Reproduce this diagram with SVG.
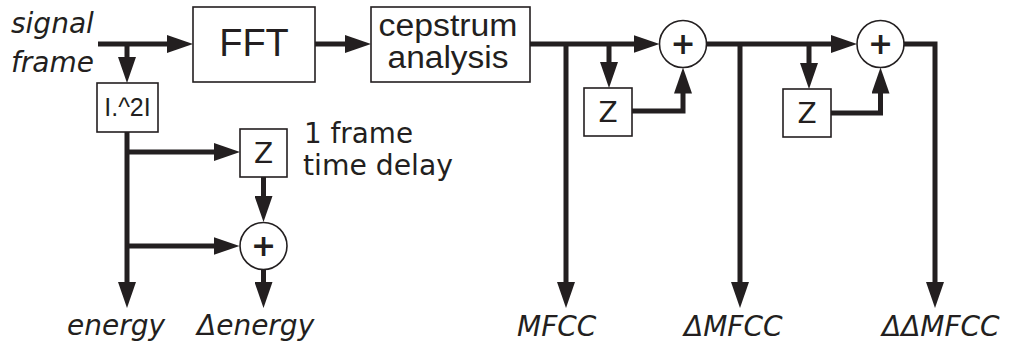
<svg xmlns="http://www.w3.org/2000/svg" width="1009" height="345" viewBox="0 0 1009 345">
<style>
.box{fill:#fff;stroke:#231f20;stroke-width:1.6}
.sum{fill:#fff;stroke:#231f20;stroke-width:1.6}
.wire{fill:none;stroke:#231f20;stroke-width:5;stroke-linejoin:miter}
.lbl{font-family:"DejaVu Sans",Verdana,sans-serif;font-style:italic;font-size:28px;fill:#231f20}
.ar{font-family:"Liberation Sans",Arial,sans-serif;fill:#231f20;text-anchor:middle}
.z{font-family:"DejaVu Sans",Verdana,sans-serif;font-size:28px;fill:#231f20;text-anchor:middle}
.plus{font-family:"DejaVu Sans",Verdana,sans-serif;font-size:30px;font-weight:bold;fill:#231f20;text-anchor:middle}
.note{font-family:"DejaVu Sans",Verdana,sans-serif;font-size:28px;fill:#231f20}
</style>
<defs>
<marker id="ah" viewBox="0 0 26 18" refX="1" refY="9" markerWidth="26" markerHeight="18" markerUnits="userSpaceOnUse" orient="auto">
<path d="M0,0 L26,9 L0,18 z" fill="#231f20"/>
</marker>
</defs>
<g id="connectors">
<path class="wire" d="M98,44 H168" marker-end="url(#ah)"/>
<path class="wire" d="M127,44 V58" marker-end="url(#ah)"/>
<path class="wire" d="M315,44 H346" marker-end="url(#ah)"/>
<path class="wire" d="M530,44 H634.5" marker-end="url(#ah)"/>
<path class="wire" d="M566,44 V283" marker-end="url(#ah)"/>
<path class="wire" d="M609,44 V63" marker-end="url(#ah)"/>
<path class="wire" d="M632,111 H683 V92.5" marker-end="url(#ah)"/>
<path class="wire" d="M706.5,44 H832" marker-end="url(#ah)"/>
<path class="wire" d="M740,44 V283" marker-end="url(#ah)"/>
<path class="wire" d="M809,44 V64" marker-end="url(#ah)"/>
<path class="wire" d="M831,113 H880.5 V92.5" marker-end="url(#ah)"/>
<path class="wire" d="M904,44 H935 V283" marker-end="url(#ah)"/>
<path class="wire" d="M127,132 V283" marker-end="url(#ah)"/>
<path class="wire" d="M127,152 H215" marker-end="url(#ah)"/>
<path class="wire" d="M127,246 H214.5" marker-end="url(#ah)"/>
<path class="wire" d="M263.5,177 V197" marker-end="url(#ah)"/>
<path class="wire" d="M263.5,269 V283" marker-end="url(#ah)"/>
</g>
<g id="input-label">
<text class="lbl" x="11" y="33">signal</text>
<text class="lbl" x="11" y="72">frame</text>
</g>
<g id="fft">
<rect class="box" x="193" y="7" width="122" height="75"/>
<text class="ar" x="254" y="56" font-size="38">FFT</text>
</g>
<g id="cepstrum">
<rect class="box" x="371" y="7" width="159" height="75"/>
<text class="ar" x="448" y="36" font-size="31" textLength="139" lengthAdjust="spacingAndGlyphs">cepstrum</text>
<text class="ar" x="448" y="68" font-size="31" textLength="121" lengthAdjust="spacingAndGlyphs">analysis</text>
</g>
<g id="abs2">
<rect class="box" x="97" y="83" width="61" height="49"/>
<text class="ar" x="127.5" y="116" font-size="25">I.^2I</text>
</g>
<g id="delay-energy">
<rect class="box" x="240" y="129" width="47" height="48"/>
<text class="z" x="263.5" y="163">Z</text>
</g>
<g id="delay-note">
<text class="note" x="304" y="143" textLength="109" lengthAdjust="spacingAndGlyphs">1 frame</text>
<text class="note" x="303" y="175" textLength="150" lengthAdjust="spacingAndGlyphs">time delay</text>
</g>
<g id="sum-energy">
<circle class="sum" cx="263.5" cy="246" r="23.5"/>
<text class="plus" x="263.5" y="256">+</text>
</g>
<g id="delay-mfcc">
<rect class="box" x="584" y="88" width="48" height="48"/>
<text class="z" x="608" y="122">Z</text>
</g>
<g id="sum-mfcc">
<circle class="sum" cx="683" cy="44" r="23.5"/>
<text class="plus" x="683" y="54">+</text>
</g>
<g id="delay-dmfcc">
<rect class="box" x="783" y="89" width="48" height="48"/>
<text class="z" x="807" y="123">Z</text>
</g>
<g id="sum-dmfcc">
<circle class="sum" cx="880.5" cy="44" r="23.5"/>
<text class="plus" x="880.5" y="54">+</text>
</g>
<g id="outputs">
<text class="lbl" x="67" y="335">energy</text>
<text class="lbl" x="197" y="335">Δenergy</text>
<text class="lbl" x="517" y="336">MFCC</text>
<text class="lbl" x="684" y="336">ΔMFCC</text>
<text class="lbl" x="882" y="336">ΔΔMFCC</text>
</g>
</svg>
